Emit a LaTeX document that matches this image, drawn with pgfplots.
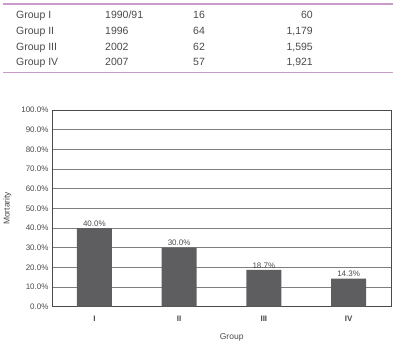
\documentclass[border=0pt]{standalone}
\usepackage{pgfplots}
\pgfplotsset{compat=1.18}
\usepackage{fontspec}
\setmainfont{Liberation Sans}
\definecolor{rulepink}{HTML}{C89BC8}
\definecolor{txt}{HTML}{4A4A4A}
\definecolor{barfill}{HTML}{5E5E60}
\definecolor{gridc}{HTML}{7E7E7E}

\begin{document}
\begin{tikzpicture}
\useasboundingbox (0pt,0pt) rectangle (396pt,347pt);

% summary table above the chart
\draw[rulepink, line width=1.2pt] (3pt,343pt) -- (393pt,343pt);
\draw[rulepink, line width=1.2pt] (3pt,274.3pt) -- (393pt,274.3pt);
\begin{scope}[every node/.style={font=\fontsize{10.5}{12}\selectfont, text=txt, inner sep=0pt}]
\foreach \g/\yr/\n/\m [count=\i from 0] in {Group I/{1990/91}/16/60, Group II/1996/64/{1,179}, Group III/2002/62/{1,595}, Group IV/2007/57/{1,921}} {
  \pgfmathsetmacro{\yy}{347-18.5-15.8*\i}
  \node[anchor=base west] at (16pt,\yy pt) {\g};
  \node[anchor=base west] at (105pt,\yy pt) {\yr};
  \node[anchor=base west] at (193pt,\yy pt) {\n};
  \node[anchor=base east] at (313pt,\yy pt) {\m};
}
\end{scope}

\begin{axis}[
  at={(52pt,40.3pt)}, anchor=south west,
  scale only axis, width=339pt, height=196.7pt,
  xmin=0.5, xmax=4.5, ymin=0, ymax=100,
  ytick={0,10,...,100},
  xtick={1,2,3,4},
  xticklabels={I,II,III,IV},
  x tick label style={font=\fontsize{8}{9}\selectfont\bfseries, text=txt, yshift=-6pt},
  y tick label style={font=\fontsize{8}{9}\selectfont, text=txt},
  yticklabel={\pgfmathprintnumber[fixed,fixed zerofill,precision=1]{\tick}\%},
  /pgf/number format/assume math mode=true,
  major x tick style={draw=none},
  major y tick style={draw=none},
  extra x ticks={1.5,2.5,3.5},
  extra x tick labels={},
  extra x tick style={major tick length=2.5pt, tick align=outside, major tick style={draw=txt, line width=0.6pt}},
  ymajorgrids,
  grid style={gridc, line width=0.8pt},
  axis line style={draw=txt, line width=0.9pt},
  xlabel={Group},
  ylabel={Mortarity},
  xlabel style={font=\fontsize{8.5}{10}\selectfont, text=txt, at={(axis description cs:0.53,0)}, anchor=north, yshift=-23pt},
  ylabel style={font=\fontsize{8.5}{10}\selectfont, text=txt, yshift=3pt},
  nodes near coords={\pgfmathprintnumber[fixed,fixed zerofill,precision=1]{\pgfplotspointmeta}\%},
  nodes near coords style={font=\fontsize{8}{9}\selectfont, text=txt, inner sep=1.5pt},
  clip=false,
]
\addplot[ybar, bar width=35pt, fill=barfill, draw=none] coordinates {(1,40.0) (2,30.0) (3,18.7) (4,14.3)};
\end{axis}
\end{tikzpicture}
\end{document}
